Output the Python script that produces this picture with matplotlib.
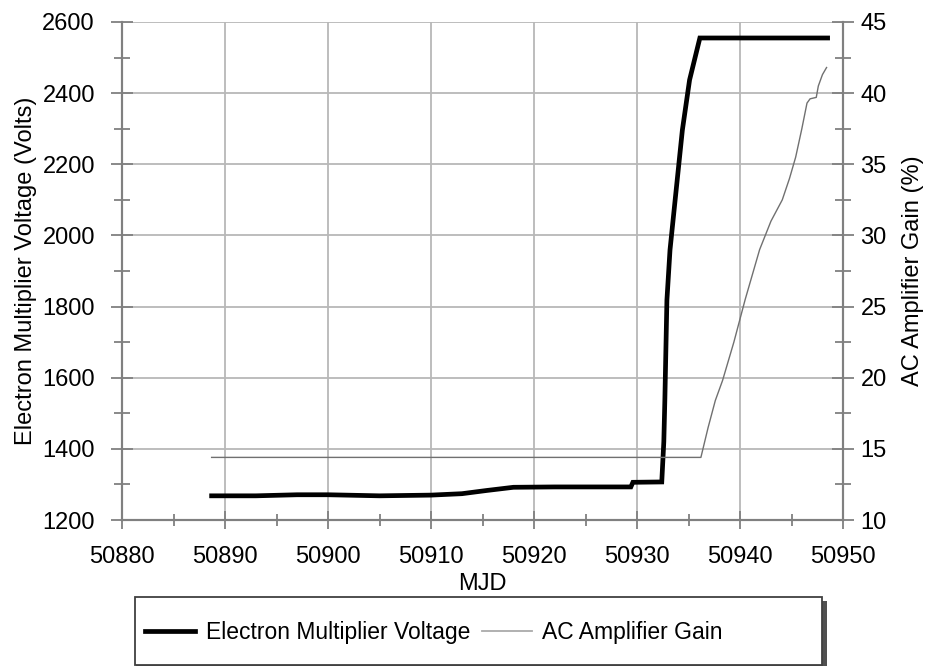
import matplotlib.pyplot as plt
from matplotlib.patches import Rectangle
from matplotlib.lines import Line2D
from matplotlib.ticker import MultipleLocator

plt.rcParams['font.family'] = ['Liberation Sans', 'DejaVu Sans']

# electron multiplier voltage (Volts) vs MJD
mjd_v = [50888.7, 50893.0, 50897.0, 50900.0, 50905.0, 50910.0, 50913.0,
         50915.4, 50918.0, 50922.0, 50929.4, 50929.6, 50932.4, 50932.6,
         50932.7, 50932.9, 50933.2, 50933.7, 50934.4, 50935.1, 50936.1,
         50948.5]
volts = [1268, 1268, 1271, 1271, 1268, 1270, 1274,
         1283, 1292, 1293, 1293, 1306, 1307, 1420,
         1537, 1818, 1959, 2100, 2296, 2437, 2555,
         2555]

# AC amplifier gain (%) vs MJD
mjd_g = [50888.7, 50936.2, 50936.9, 50937.6, 50938.3, 50939.4, 50940.5,
         50941.9, 50943.0, 50944.1, 50944.8, 50945.4, 50946.0, 50946.5,
         50946.8, 50947.4, 50947.6, 50948.0, 50948.4]
gain = [14.4, 14.4, 16.5, 18.4, 19.8, 22.5, 25.5,
        29.0, 31.0, 32.5, 34.0, 35.5, 37.5, 39.3,
        39.6, 39.7, 40.5, 41.3, 41.8]

fig = plt.figure(figsize=(9.3, 6.66), dpi=100)
ax = fig.add_axes([0.1312, 0.2192, 0.7753, 0.7478])
ax2 = ax.twinx()

ax.plot(mjd_v, volts, color='black', lw=3.4, solid_joinstyle='miter', zorder=3)
ax2.plot(mjd_g, gain, color='#707070', lw=1.0, zorder=2)

ax.set_xlim(50880, 50950)
ax.set_ylim(1200, 2600)
ax2.set_ylim(10, 45)

ax.xaxis.set_major_locator(MultipleLocator(10))
ax.xaxis.set_minor_locator(MultipleLocator(5))
ax.yaxis.set_major_locator(MultipleLocator(200))
ax.yaxis.set_minor_locator(MultipleLocator(100))
ax2.yaxis.set_major_locator(MultipleLocator(5))
ax2.yaxis.set_minor_locator(MultipleLocator(2.5))

ax.grid(True, which='major', color='#b8b8b8', lw=1.3)
ax.set_axisbelow(True)

for a in (ax, ax2):
    for s in a.spines.values():
        s.set_color('#808080')
        s.set_linewidth(1.5)
    a.spines['top'].set_visible(False)

tc = '#808080'
ax.tick_params(axis='x', which='major', direction='inout', length=13, width=1.3, color=tc,
               labelsize=17, pad=12)
ax.tick_params(axis='x', which='minor', direction='inout', length=9, width=1.3, color=tc)
ax.tick_params(axis='y', which='major', direction='inout', length=16, width=1.3, color=tc,
               labelsize=17, pad=11.5)
ax.tick_params(axis='y', which='minor', direction='inout', length=12, width=1.3, color=tc)
ax2.tick_params(axis='y', which='major', direction='inout', length=16, width=1.3, color=tc,
                labelsize=17, pad=4.5)
ax2.tick_params(axis='y', which='minor', direction='inout', length=11, width=1.3, color=tc)

ax.set_xlabel('MJD', fontsize=17, labelpad=4)
ax.set_ylabel('Electron Multiplier Voltage (Volts)', fontsize=17, labelpad=4)
ax2.set_ylabel('AC Amplifier Gain (%)', fontsize=17, labelpad=11)

# legend box with a shadow on the right edge
fig.patches.append(Rectangle((0.1465, -0.02), 0.7425, 0.118, transform=fig.transFigure,
                             facecolor='#505050', edgecolor='none', zorder=1))
fig.patches.append(Rectangle((0.145, 0.0015), 0.739, 0.1015, transform=fig.transFigure,
                             facecolor='white', edgecolor='#404040', lw=1.3, zorder=2))

handles = [Line2D([], [], color='black', lw=3.4),
           Line2D([], [], color='#aaaaaa', lw=1.3)]
fig.legend(handles, ['Electron Multiplier Voltage', 'AC Amplifier Gain'],
           loc='center left', bbox_to_anchor=(0.156, 0.051), ncol=2, frameon=False,
           borderpad=0, borderaxespad=0, fontsize=16.5, handlelength=2.2,
           handletextpad=0.45, columnspacing=0.5)

fig.savefig('out.png', dpi=100)
